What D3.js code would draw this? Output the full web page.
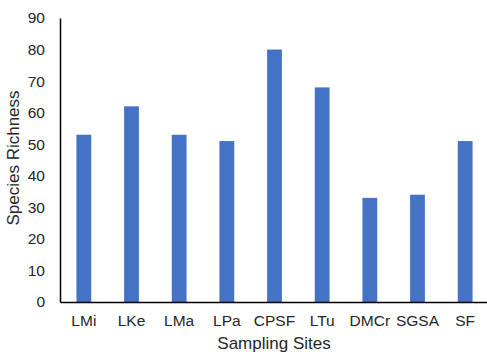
<!DOCTYPE html>
<html><head><meta charset="utf-8">
<script src="https://cdn.jsdelivr.net/npm/d3@7"></script>
<style>body{margin:0;background:#fff}svg{display:block}</style>
</head><body>
<svg id="chart" width="487" height="355"></svg>
<script>
const sites = ["LMi","LKe","LMa","LPa","CPSF","LTu","DMCr","SGSA","SF"];
const richness = [53, 62, 53, 51, 80, 68, 33, 34, 51];
const yTicks = [0,10,20,30,40,50,60,70,80,90];

const svg = d3.select("#chart");
const plotLeft = 60, plotRight = 489, plotTop = 18, plotBottom = 302;
const font = "Liberation Sans, Arial, sans-serif";

const x = d3.scaleBand().domain(sites).range([plotLeft, plotRight]).paddingInner(0.69).paddingOuter(0.345);
const y = d3.scaleLinear().domain([0, 90]).range([plotBottom, plotTop]);

svg.selectAll("rect.bar").data(sites).enter().append("rect")
  .attr("class","bar")
  .attr("x", d => x(d))
  .attr("width", x.bandwidth())
  .attr("y", (d,i) => y(richness[i]))
  .attr("height", (d,i) => y(0) - y(richness[i]))
  .attr("fill", "#4472C4");

const yAxis = svg.append("g").attr("transform", `translate(${plotLeft},0)`)
  .call(d3.axisLeft(y).tickValues(yTicks).tickSize(0).tickPadding(15));
const xAxis = svg.append("g").attr("transform", `translate(0,${plotBottom})`)
  .call(d3.axisBottom(x).tickSize(0).tickPadding(13));

[yAxis, xAxis].forEach(g => {
  g.select(".domain").attr("stroke", "#000").attr("stroke-width", 1.5);
  g.selectAll("text").attr("font-family", font).attr("font-size", 15.5).attr("fill", "#262626");
});

svg.append("text").attr("x", 274).attr("y", 349).attr("text-anchor","middle")
  .attr("font-family", font).attr("font-size", 17).attr("fill","#262626").text("Sampling Sites");
svg.append("text").attr("transform", "translate(19,158) rotate(-90)").attr("text-anchor","middle")
  .attr("font-family", font).attr("font-size", 17).attr("fill","#262626").text("Species Richness");
</script>
</body></html>
